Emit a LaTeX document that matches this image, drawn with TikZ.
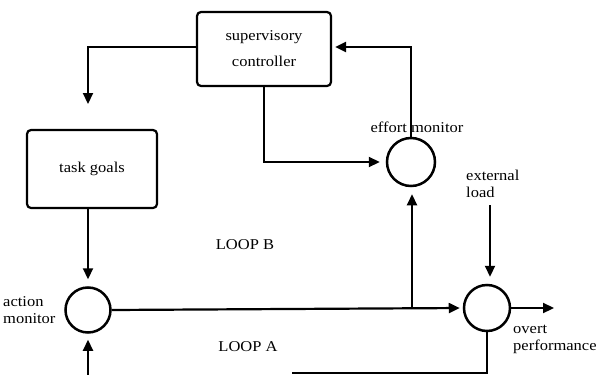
\documentclass[tikz,border=0pt]{standalone}
\usepackage{fontspec}
\setmainfont{Liberation Serif}[FakeStretch=1.1]
\usetikzlibrary{arrows.meta}
\begin{document}
\begin{tikzpicture}[x=1pt,y=-1pt,
  conn/.style={line width=2.2pt,-{Triangle[length=11pt,width=10pt]}},
  plain/.style={line width=2.2pt},
  boxnode/.style={draw,line width=2.2pt,rounded corners=4pt,align=center,font=\fontsize{15}{26}\selectfont},
  sumnode/.style={draw,circle,line width=2.5pt,inner sep=0pt},
  lbl/.style={font=\fontsize{15}{17}\selectfont,align=left,inner sep=0pt}]
\useasboundingbox (0,0) rectangle (600,375);
\node[boxnode,minimum width=134pt,minimum height=74pt] (sup) at (264,49) {supervisory\\controller};
\node[boxnode,minimum width=130pt,minimum height=78pt] (task) at (92,169) {task goals};
\node[sumnode,minimum size=45pt] (am) at (88,310) {};
\node[sumnode,minimum size=48pt] (em) at (411,162) {};
\node[sumnode,minimum size=46pt] (sum) at (487,308) {};
% free ends
\coordinate (tgtip) at (88,104);
\coordinate (amlow) at (88,375);
\coordinate (branch) at (412,309);
\coordinate (loadtop) at (490,205);
\coordinate (overt) at (554,308);
\coordinate (fbcorner) at (487,373);
\coordinate (fbend) at (292,373);
% connectors
\draw[conn] (sup.west |- 0,47) -- (88,47) -- (tgtip);
\draw[conn,shorten >=7pt] (am.north |- task.south) -- (am.north);
\draw[conn,shorten >=6pt] (amlow) -- (am.south);
\draw[conn,shorten >=3pt] (am.east) -- (sum.west);
\draw[conn,shorten >=7pt] (branch) -- (branch |- em.south);
\draw[conn,shorten >=6pt] (sup.south) -- (sup.south |- em.west) -- (em.west);
\draw[conn,shorten >=3pt] (em.north) -- (em.north |- 0,47) -- (sup.east |- 0,47);
\draw[conn,shorten >=7pt] (loadtop) -- (loadtop |- sum.north);
\draw[conn] (sum.east) -- (overt);
\draw[plain,line width=1.6pt] (sum.south) -- (fbcorner) -- (fbend);
% labels
\node[lbl,anchor=west] (amlbl) at (3,310) {action\\monitor};
\node[lbl] (emlbl) at (417,127) {effort monitor};
\node[lbl,anchor=west] (loadlbl) at (466,184) {external\\load};
\node[lbl,anchor=west] (ovlbl) at (513,339) {overt\\performance};
\node[lbl] (loopb) at (245,245) {LOOP B};
\node[lbl] (loopa) at (248,347) {LOOP A};
\end{tikzpicture}
\end{document}
